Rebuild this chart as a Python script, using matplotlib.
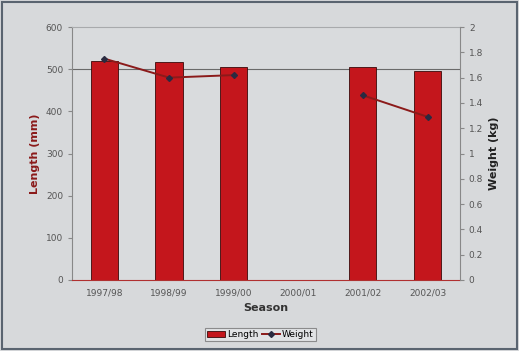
import matplotlib
matplotlib.use("Agg")
import matplotlib.pyplot as plt
import numpy as np
from matplotlib.patches import Rectangle

seasons = ["1997/98", "1998/99", "1999/00", "2000/01", "2001/02", "2002/03"]
length_mm = [520, 518, 505, np.nan, 505, 495]
weight_kg = [1.75, 1.60, 1.62, np.nan, 1.46, 1.29]

bg = "#d7d9db"
fig = plt.figure(figsize=(5.19, 3.51), dpi=100, facecolor=bg)
fig.patches.append(Rectangle((0.004, 0.006), 0.992, 0.988, transform=fig.transFigure,
                             fill=False, edgecolor="#5a6470", linewidth=1.5))
ax = fig.add_axes([0.139, 0.2023, 0.747, 0.7207])
ax.set_facecolor("#d9dbdd")
x = np.arange(len(seasons))
hbars = ax.bar(x, length_mm, width=0.42, color="#c4161c", edgecolor="#3a0a0a",
               linewidth=0.6, label="Length", zorder=2)
ax.set_xlim(-0.5, len(seasons) - 0.5)
ax.set_ylim(0, 600)
ax.set_yticks(range(0, 601, 100))
ax.axhline(500, color="#6a6a6a", linewidth=0.8, zorder=1)
ax.set_xticks(x)
ax.set_xticklabels(seasons, fontsize=6.5, color="#555555")
ax.tick_params(axis="y", labelsize=6.5, labelcolor="#555555", color="#888888", length=3)
ax.tick_params(axis="x", length=0, pad=6)
ax.set_ylabel("Length (mm)", fontsize=8, fontweight="bold", color="#8b1a1a")
ax.set_xlabel("Season", fontsize=8, fontweight="bold", color="#333333", labelpad=4)
ax.spines["right"].set_visible(False)
ax.spines["top"].set_color("#a8aaac")
ax.spines["left"].set_color("#888888")
ax.spines["bottom"].set_color("#b03030")

ax2 = ax.twinx()
ln, = ax2.plot(x, weight_kg, color="#8b1a1a", marker="D", markersize=3,
               markerfacecolor="#2a2a40", markeredgecolor="#2a2a40",
               linewidth=1.4, label="Weight", zorder=3)
ax2.set_ylim(0, 2)
ax2.set_yticks(np.arange(0, 2.01, 0.2))
ax2.set_yticklabels(["0", "0.2", "0.4", "0.6", "0.8", "1", "1.2", "1.4", "1.6", "1.8", "2"])
ax2.tick_params(axis="y", labelsize=6.5, labelcolor="#555555", color="#888888", length=3)
ax2.set_ylabel("Weight (kg)", fontsize=8, fontweight="bold", color="#222222")
for s in ["top", "left", "bottom"]:
    ax2.spines[s].set_visible(False)
ax2.spines["right"].set_color("#888888")

leg = fig.legend([hbars, ln], ["Length", "Weight"], loc="lower center",
                 bbox_to_anchor=(0.502, 0.015), ncol=2, fontsize=6.5, frameon=True,
                 fancybox=False, handlelength=2.0, columnspacing=0.3,
                 handletextpad=0.25, borderpad=0.25)
leg.get_frame().set_edgecolor("#777777")
leg.get_frame().set_facecolor("#e4e6e8")
leg.get_frame().set_linewidth(0.8)

fig.savefig("out.png", dpi=100, facecolor=bg)
